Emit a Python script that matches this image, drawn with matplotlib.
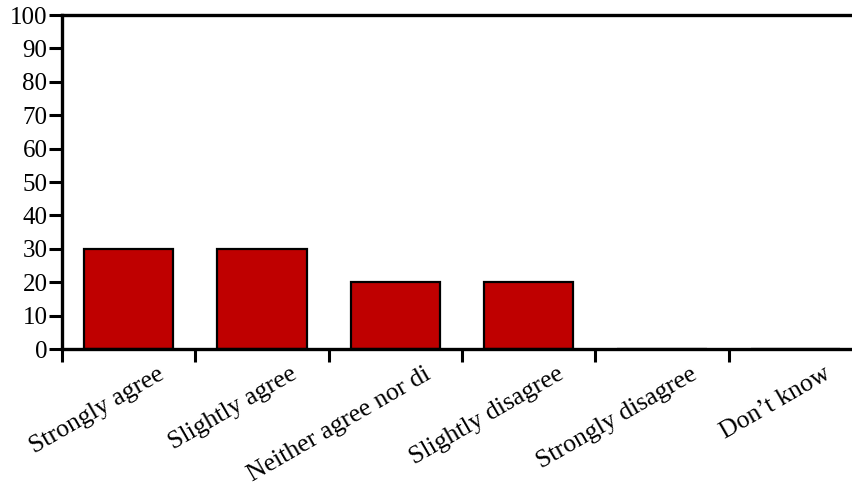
import matplotlib
matplotlib.use("Agg")
import matplotlib.pyplot as plt
import matplotlib.transforms as mtransforms
import numpy as np

categories = ["Strongly agree", "Slightly agree", "Neither agree nor di",
              "Slightly disagree", "Strongly disagree", "Don\u2019t know"]
values = [30, 30, 20, 20, 0, 0]
yticks = list(range(0, 101, 10))

plt.rcParams['font.family'] = ['Liberation Serif', 'DejaVu Serif']

W, H = 852, 486
fig = plt.figure(figsize=(W / 100, H / 100), dpi=100)
ax = fig.add_axes([62 / W, 1 - 349 / H, 800 / W, 334 / H])

x = np.arange(len(categories))
ax.bar(x, values, width=0.67, color="#BF0000", edgecolor="black", linewidth=1.6, zorder=2)

ax.set_xlim(-0.5, len(categories) - 0.5)
ax.set_ylim(0, 100)
ax.set_yticks(yticks)
ax.set_yticklabels([str(v) for v in yticks], fontsize=18)

for s in ["left", "bottom", "top", "right"]:
    ax.spines[s].set_linewidth(2.4)
ax.spines["right"].set_visible(False)

ax.tick_params(axis="y", length=9.5, width=2.2, pad=1, direction="out")
ax.set_xticks(x)
ax.set_xticklabels([])
ax.tick_params(axis="x", which="major", length=0)
ax.set_xticks(np.arange(-0.5, len(categories), 1.0), minor=True)
ax.tick_params(axis="x", which="minor", length=9, width=2.2, direction="out")

offset = mtransforms.ScaledTranslation(28 / 100, -14 / 100, fig.dpi_scale_trans)
trans = ax.get_xaxis_transform() + offset
for xi, lab in zip(x, categories):
    ax.text(xi, 0, lab, transform=trans, rotation=30, ha="right", va="top",
            rotation_mode="anchor", fontsize=18.5)

fig.savefig("out.png", dpi=100)
